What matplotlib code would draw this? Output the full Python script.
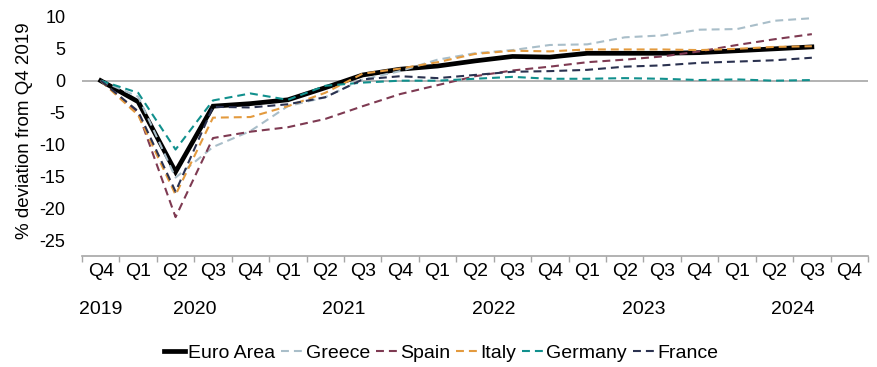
import matplotlib
matplotlib.use('Agg')
import matplotlib.pyplot as plt
import numpy as np

plt.rcParams['font.family'] = ['Liberation Sans', 'DejaVu Sans']
plt.rcParams['axes.unicode_minus'] = False

# quarters Q4 2019 .. Q4 2024 (last quarter has no data yet)
quarters = ['Q4', 'Q1', 'Q2', 'Q3', 'Q4', 'Q1', 'Q2', 'Q3', 'Q4', 'Q1', 'Q2',
            'Q3', 'Q4', 'Q1', 'Q2', 'Q3', 'Q4', 'Q1', 'Q2', 'Q3', 'Q4']
years = ['2019', '2020', '2021', '2022', '2023', '2024']
year_pos = [0, 2.5, 6.5, 10.5, 14.5, 18.5]

euro_area = [0, -3.3, -14.3, -4.0, -3.6, -3.0, -1.1, 0.9, 1.8, 2.3, 3.1, 3.8,
             3.7, 4.3, 4.3, 4.3, 4.4, 4.7, 5.0, 5.3]
greece = [0, -2.5, -15.2, -10.4, -7.9, -4.0, -2.6, 0.2, 1.5, 3.3, 4.3, 4.8,
          5.6, 5.7, 6.8, 7.1, 8.0, 8.1, 9.4, 9.8]
spain = [0, -5.0, -21.4, -9.0, -8.0, -7.3, -6.0, -4.0, -2.1, -0.7, 0.7, 1.6,
         2.2, 2.9, 3.3, 3.8, 4.6, 5.6, 6.5, 7.3]
italy = [0, -5.4, -17.9, -5.8, -5.7, -4.0, -1.9, 1.1, 1.9, 2.9, 4.2, 4.7,
         4.6, 4.9, 4.9, 4.9, 4.8, 5.0, 5.3, 5.4]
germany = [0, -1.9, -10.8, -3.1, -2.0, -3.0, -0.8, -0.3, 0.0, 0.0, 0.3, 0.6,
           0.3, 0.3, 0.4, 0.3, 0.1, 0.2, 0.0, 0.1]
france = [0, -4.8, -17.4, -4.1, -4.2, -3.7, -2.6, 0.2, 0.7, 0.4, 0.9, 1.4,
          1.5, 1.7, 2.2, 2.4, 2.8, 3.0, 3.2, 3.6]

series = [('Greece', greece, '#a9bec9'),
          ('Spain', spain, '#7e3a52'),
          ('Italy', italy, '#e39a3e'),
          ('Germany', germany, '#11908d'),
          ('France', france, '#2b3250')]

fig = plt.figure(figsize=(8.78, 3.67), dpi=100)
ax = fig.add_axes([82/878, 1 - 256/367, 786/878, 255/367])

x = np.arange(len(euro_area))
ax.plot(x, euro_area, color='black', lw=3.4, label='Euro Area', zorder=3,
        solid_joinstyle='miter')
for name, vals, col in series:
    ax.plot(x, vals, color=col, lw=1.5, ls=(0, (3.8, 2.4)), label=name, zorder=4)

ax.axhline(0, color='#a6a6a6', lw=1.2, zorder=1)

ax.set_xlim(-0.5, len(quarters) - 0.5)
ax.set_ylim(-27.5, 12.5)
ax.set_yticks(np.arange(-25, 11, 5))
ax.tick_params(axis='y', length=0, pad=12, labelsize=13)

ax.set_xticks(np.arange(len(quarters)))
ax.set_xticklabels(quarters)
ax.set_xticks(np.arange(-0.5, len(quarters), 1), minor=True)
ax.tick_params(axis='x', which='major', length=0, pad=5, labelsize=14)
ax.tick_params(axis='x', which='minor', length=4, color='#a6a6a6', width=1)

for sp in ['left', 'right', 'top']:
    ax.spines[sp].set_visible(False)
ax.spines['bottom'].set_color('#a6a6a6')
ax.spines['bottom'].set_linewidth(1.2)

for yr, xp in zip(years, year_pos):
    ax.text(xp, -0.175, yr, transform=ax.get_xaxis_transform(),
            ha='center', va='top', fontsize=14)

ax.set_ylabel('% deviation from Q4 2019', fontsize=13.5)
ax.yaxis.set_label_coords(-0.062, 0.49)

fig.legend(loc='center', bbox_to_anchor=(441/878, 1 - 353/367), ncol=6,
           frameon=False, fontsize=14, handlelength=1.1, handletextpad=0.15,
           columnspacing=0.3, borderaxespad=0)

fig.savefig('out.png', dpi=100)
